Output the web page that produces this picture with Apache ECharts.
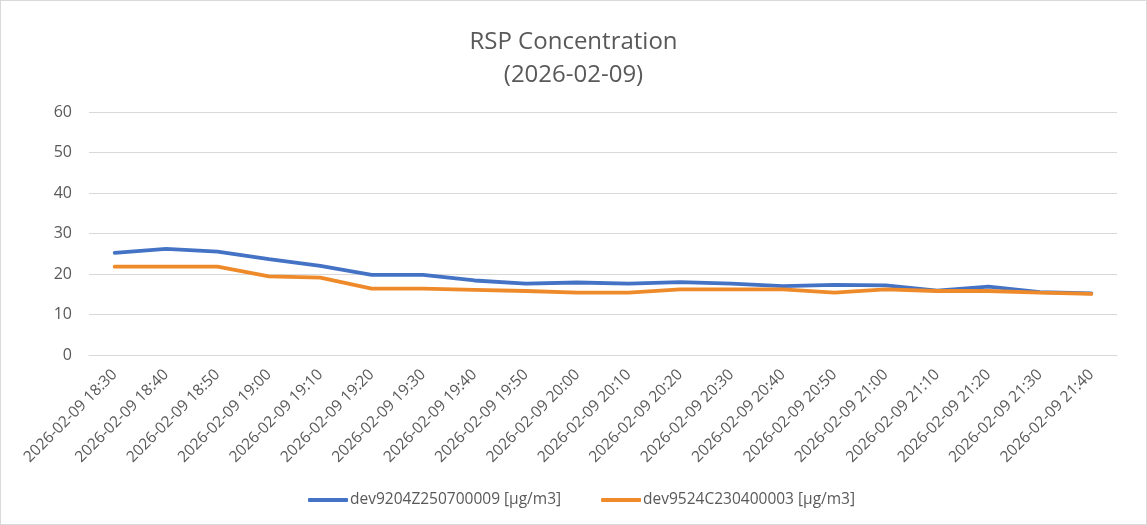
<!DOCTYPE html>
<html>
<head>
<meta charset="utf-8">
<script src="https://cdn.jsdelivr.net/npm/echarts@6/dist/echarts.min.js"></script>
<style>
  html, body { margin: 0; padding: 0; background: #fff; }
  #chart { width: 1147px; height: 525px; box-sizing: border-box; border: 1px solid #d9d9d9; }
</style>
</head>
<body>
<div id="chart"></div>
<script>
const times = ['18:30', '18:40', '18:50', '19:00', '19:10', '19:20', '19:30', '19:40', '19:50', '20:00',
  '20:10', '20:20', '20:30', '20:40', '20:50', '21:00', '21:10', '21:20', '21:30', '21:40']
const categories = times.map(t => '2026-02-09 ' + t)
const dev9204 = [25.2, 26.2, 25.5, 23.7, 22.0, 19.8, 19.8, 18.4, 17.6, 17.9,
  17.6, 18.0, 17.6, 17.0, 17.3, 17.2, 15.9, 16.9, 15.5, 15.2]
const dev9524 = [21.8, 21.8, 21.8, 19.4, 19.1, 16.4, 16.4, 16.1, 15.8, 15.4,
  15.4, 16.2, 16.2, 16.2, 15.4, 16.2, 15.8, 15.8, 15.4, 15.1]
const seriesNames = ['dev9204Z250700009 [µg/m3]', 'dev9524C230400003 [µg/m3]']

const chart = echarts.init(document.getElementById('chart'))
const font = '"Open Sans", "Noto Sans", sans-serif'
chart.setOption({
  animation: false,
  title: {
    text: 'RSP Concentration\n(2026-02-09)',
    left: 'center',
    top: 20,
    textStyle: {
      color: '#595959',
      fontFamily: font,
      fontWeight: 'normal',
      fontSize: 24,
      lineHeight: 33
    }
  },
  color: ['#4472C4', '#EE8A2A'],
  legend: {
    bottom: 11,
    left: 302,
    itemWidth: 40,
    itemHeight: 4,
    itemGap: 40,
    icon: 'roundRect',
    textStyle: { color: '#595959', fontFamily: font, fontSize: 15.5, padding: [0, 0, 0, -3] },
    data: seriesNames
  },
  grid: {
    left: 88,
    right: 29,
    top: 111,
    bottom: 169
  },
  xAxis: {
    type: 'category',
    data: categories,
    boundaryGap: true,
    axisLine: { lineStyle: { color: '#d9d9d9' } },
    axisTick: { show: false },
    axisLabel: {
      rotate: 45,
      interval: 0,
      color: '#595959',
      fontFamily: font,
      fontSize: 15.5,
      margin: 17
    }
  },
  yAxis: {
    type: 'value',
    min: 0,
    max: 60,
    interval: 10,
    axisLine: { show: false },
    axisTick: { show: false },
    axisLabel: { color: '#595959', fontFamily: font, fontSize: 16, margin: 17 },
    splitLine: { lineStyle: { color: '#d9d9d9' } }
  },
  series: [
    {
      name: seriesNames[0],
      type: 'line',
      data: dev9204,
      showSymbol: false,
      lineStyle: { width: 3.8, cap: 'round' }
    },
    {
      name: seriesNames[1],
      type: 'line',
      data: dev9524,
      showSymbol: false,
      lineStyle: { width: 3.8, cap: 'round' }
    }
  ]
})
</script>
</body>
</html>
